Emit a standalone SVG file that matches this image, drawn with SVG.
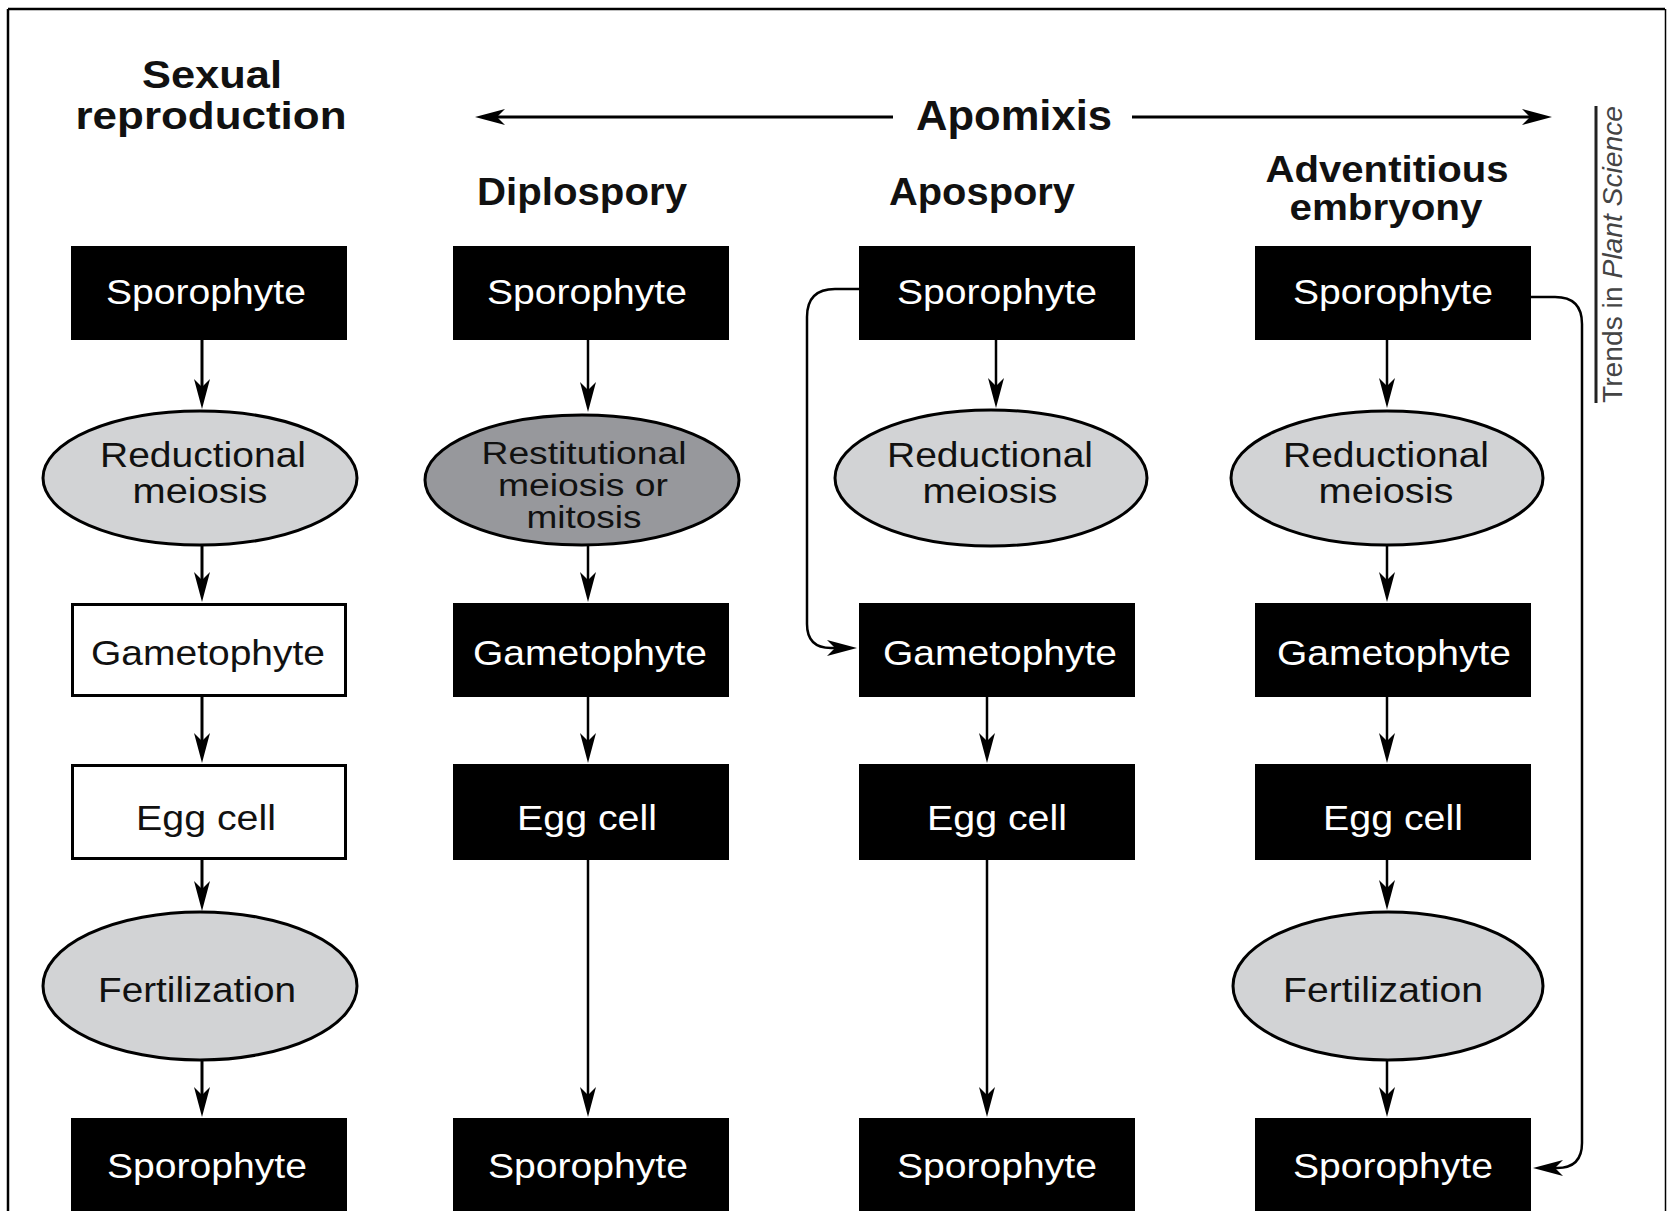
<svg xmlns="http://www.w3.org/2000/svg" width="1669" height="1211" viewBox="0 0 1669 1211">
<style>
  .t { font-family: "Liberation Sans", Arial, sans-serif; font-size: 35px; text-anchor: middle; }
  .s { font-size: 31px; }
  .w { fill: #ffffff; }
  .k { fill: #111111; }
  .h { font-family: "Liberation Sans", Arial, sans-serif; font-weight: bold; text-anchor: middle; fill: #111111; }
  .blk { fill: #000000; }
  .wbox { fill: #ffffff; stroke: #000000; stroke-width: 3; }
  .lt { fill: #d2d3d5; stroke: #000000; stroke-width: 3; }
  .dk { fill: #97989c; stroke: #000000; stroke-width: 3; }
  .c { fill: none; stroke: #000000; stroke-width: 2.5; marker-end: url(#ah); }
  .c3 { fill: none; stroke: #000000; stroke-width: 3; marker-end: url(#ah); }
</style>
<defs>
  <marker id="ah" markerUnits="userSpaceOnUse" orient="auto" refX="0" refY="0" markerWidth="40" markerHeight="20" viewBox="-25 -10 40 20">
    <path d="M10,0 L-20,-8 L-12,0 L-20,8 Z" fill="#000000"/>
  </marker>
</defs>
<rect x="0" y="0" width="1669" height="1211" fill="#ffffff"/>
<!-- frame -->
<g id="frame" fill="none" stroke="#000000">
  <line x1="8" y1="9" x2="1665" y2="9" stroke-width="2.5"/>
  <line x1="8" y1="9" x2="8" y2="1211" stroke-width="2.5"/>
  <line x1="1665.5" y1="9" x2="1665.5" y2="1211" stroke-width="1.5"/>
</g>

<!-- headers -->
<g id="headers">
  <text class="h" font-size="39" x="212" y="88" textLength="140" lengthAdjust="spacingAndGlyphs">Sexual</text>
  <text class="h" font-size="39" x="211" y="129" textLength="271" lengthAdjust="spacingAndGlyphs">reproduction</text>
  <text class="h" font-size="42" x="1014" y="130" textLength="196" lengthAdjust="spacingAndGlyphs">Apomixis</text>
  <text class="h" font-size="38" x="582" y="205" textLength="210" lengthAdjust="spacingAndGlyphs">Diplospory</text>
  <text class="h" font-size="38" x="982" y="205" textLength="186" lengthAdjust="spacingAndGlyphs">Apospory</text>
  <text class="h" font-size="37" x="1387" y="182" textLength="243" lengthAdjust="spacingAndGlyphs">Adventitious</text>
  <text class="h" font-size="37" x="1386" y="220" textLength="193" lengthAdjust="spacingAndGlyphs">embryony</text>
</g>

<g id="credit">
  <line x1="1596" y1="106" x2="1596" y2="403" stroke="#222222" stroke-width="3"/>
  <text transform="translate(1622,254.5) rotate(-90)" x="0" y="0" font-family="'Liberation Sans', Arial, sans-serif" font-size="27" fill="#444444" text-anchor="middle" textLength="297" lengthAdjust="spacingAndGlyphs">Trends in <tspan font-style="italic">Plant Science</tspan></text>
</g>

<!-- connectors -->
<g id="connectors">
  <line class="c3" x1="893" y1="117" x2="485" y2="117"/>
  <line class="c3" x1="1132" y1="117" x2="1542" y2="117"/>
  <!-- column 1 -->
  <line class="c3" x1="202" y1="340" x2="202" y2="399"/>
  <line class="c3" x1="202" y1="545" x2="202" y2="592"/>
  <line class="c3" x1="202" y1="697" x2="202" y2="753"/>
  <line class="c3" x1="202" y1="860" x2="202" y2="901"/>
  <line class="c3" x1="202" y1="1060" x2="202" y2="1107"/>
  <!-- column 2 -->
  <line class="c" x1="588" y1="340" x2="588" y2="402"/>
  <line class="c" x1="588" y1="545" x2="588" y2="592"/>
  <line class="c" x1="588" y1="697" x2="588" y2="753"/>
  <line class="c" x1="588" y1="860" x2="588" y2="1107"/>
  <!-- column 3 -->
  <line class="c" x1="996" y1="340" x2="996" y2="398"/>
  <line class="c" x1="987" y1="697" x2="987" y2="753"/>
  <line class="c" x1="987" y1="860" x2="987" y2="1107"/>
  <path class="c" d="M859,289 H835 Q807,289 807,317 V624 Q807,648 831,648 H847"/>
  <!-- column 4 -->
  <line class="c" x1="1387" y1="340" x2="1387" y2="398"/>
  <line class="c" x1="1387" y1="545" x2="1387" y2="592"/>
  <line class="c" x1="1387" y1="697" x2="1387" y2="753"/>
  <line class="c" x1="1387" y1="860" x2="1387" y2="900"/>
  <line class="c" x1="1387" y1="1060" x2="1387" y2="1107"/>
  <path class="c" d="M1531,297 H1555 Q1582,297 1582,324 V1143 Q1582,1168 1557,1168 H1543"/>
</g>

<!-- column 1: sexual reproduction -->
<g id="sex-sporophyte"><rect class="blk" x="71" y="246" width="276" height="94"/><text class="t w" x="206" y="304" textLength="200" lengthAdjust="spacingAndGlyphs">Sporophyte</text></g>
<g id="sex-meiosis"><ellipse class="lt" cx="200" cy="478" rx="157" ry="67"/><text class="t k" x="203" y="467" textLength="206" lengthAdjust="spacingAndGlyphs">Reductional</text><text class="t k" x="200" y="503" textLength="135" lengthAdjust="spacingAndGlyphs">meiosis</text></g>
<g id="sex-gametophyte"><rect class="wbox" x="72.5" y="604.5" width="273" height="91"/><text class="t k" x="208" y="665" textLength="234" lengthAdjust="spacingAndGlyphs">Gametophyte</text></g>
<g id="sex-egg"><rect class="wbox" x="72.5" y="765.5" width="273" height="93"/><text class="t k" x="206" y="830" textLength="140" lengthAdjust="spacingAndGlyphs">Egg cell</text></g>
<g id="sex-fertilization"><ellipse class="lt" cx="200" cy="986" rx="157" ry="74"/><text class="t k" x="197" y="1002" textLength="198" lengthAdjust="spacingAndGlyphs">Fertilization</text></g>
<g id="sex-sporophyte2"><rect class="blk" x="71" y="1118" width="276" height="94"/><text class="t w" x="207" y="1178" textLength="200" lengthAdjust="spacingAndGlyphs">Sporophyte</text></g>

<!-- column 2: diplospory -->
<g id="dip-sporophyte"><rect class="blk" x="453" y="246" width="276" height="94"/><text class="t w" x="587" y="304" textLength="200" lengthAdjust="spacingAndGlyphs">Sporophyte</text></g>
<g id="dip-meiosis"><ellipse class="dk" cx="582" cy="480" rx="157" ry="65"/><text class="t s k" x="584" y="464" textLength="205" lengthAdjust="spacingAndGlyphs">Restitutional</text><text class="t s k" x="583" y="496" textLength="170" lengthAdjust="spacingAndGlyphs">meiosis or</text><text class="t s k" x="584" y="528" textLength="115" lengthAdjust="spacingAndGlyphs">mitosis</text></g>
<g id="dip-gametophyte"><rect class="blk" x="453" y="603" width="276" height="94"/><text class="t w" x="590" y="665" textLength="234" lengthAdjust="spacingAndGlyphs">Gametophyte</text></g>
<g id="dip-egg"><rect class="blk" x="453" y="764" width="276" height="96"/><text class="t w" x="587" y="830" textLength="140" lengthAdjust="spacingAndGlyphs">Egg cell</text></g>
<g id="dip-sporophyte2"><rect class="blk" x="453" y="1118" width="276" height="94"/><text class="t w" x="588" y="1178" textLength="200" lengthAdjust="spacingAndGlyphs">Sporophyte</text></g>

<!-- column 3: apospory -->
<g id="apo-sporophyte"><rect class="blk" x="859" y="246" width="276" height="94"/><text class="t w" x="997" y="304" textLength="200" lengthAdjust="spacingAndGlyphs">Sporophyte</text></g>
<g id="apo-meiosis"><ellipse class="lt" cx="991" cy="478" rx="156" ry="68"/><text class="t k" x="990" y="467" textLength="206" lengthAdjust="spacingAndGlyphs">Reductional</text><text class="t k" x="990" y="503" textLength="135" lengthAdjust="spacingAndGlyphs">meiosis</text></g>
<g id="apo-gametophyte"><rect class="blk" x="859" y="603" width="276" height="94"/><text class="t w" x="1000" y="665" textLength="234" lengthAdjust="spacingAndGlyphs">Gametophyte</text></g>
<g id="apo-egg"><rect class="blk" x="859" y="764" width="276" height="96"/><text class="t w" x="997" y="830" textLength="140" lengthAdjust="spacingAndGlyphs">Egg cell</text></g>
<g id="apo-sporophyte2"><rect class="blk" x="859" y="1118" width="276" height="94"/><text class="t w" x="997" y="1178" textLength="200" lengthAdjust="spacingAndGlyphs">Sporophyte</text></g>

<!-- column 4: adventitious embryony -->
<g id="adv-sporophyte"><rect class="blk" x="1255" y="246" width="276" height="94"/><text class="t w" x="1393" y="304" textLength="200" lengthAdjust="spacingAndGlyphs">Sporophyte</text></g>
<g id="adv-meiosis"><ellipse class="lt" cx="1387" cy="478" rx="156" ry="67"/><text class="t k" x="1386" y="467" textLength="206" lengthAdjust="spacingAndGlyphs">Reductional</text><text class="t k" x="1386" y="503" textLength="135" lengthAdjust="spacingAndGlyphs">meiosis</text></g>
<g id="adv-gametophyte"><rect class="blk" x="1255" y="603" width="276" height="94"/><text class="t w" x="1394" y="665" textLength="234" lengthAdjust="spacingAndGlyphs">Gametophyte</text></g>
<g id="adv-egg"><rect class="blk" x="1255" y="764" width="276" height="96"/><text class="t w" x="1393" y="830" textLength="140" lengthAdjust="spacingAndGlyphs">Egg cell</text></g>
<g id="adv-fertilization"><ellipse class="lt" cx="1388" cy="986" rx="155" ry="74"/><text class="t k" x="1383" y="1002" textLength="200" lengthAdjust="spacingAndGlyphs">Fertilization</text></g>
<g id="adv-sporophyte2"><rect class="blk" x="1255" y="1118" width="276" height="94"/><text class="t w" x="1393" y="1178" textLength="200" lengthAdjust="spacingAndGlyphs">Sporophyte</text></g>
</svg>
